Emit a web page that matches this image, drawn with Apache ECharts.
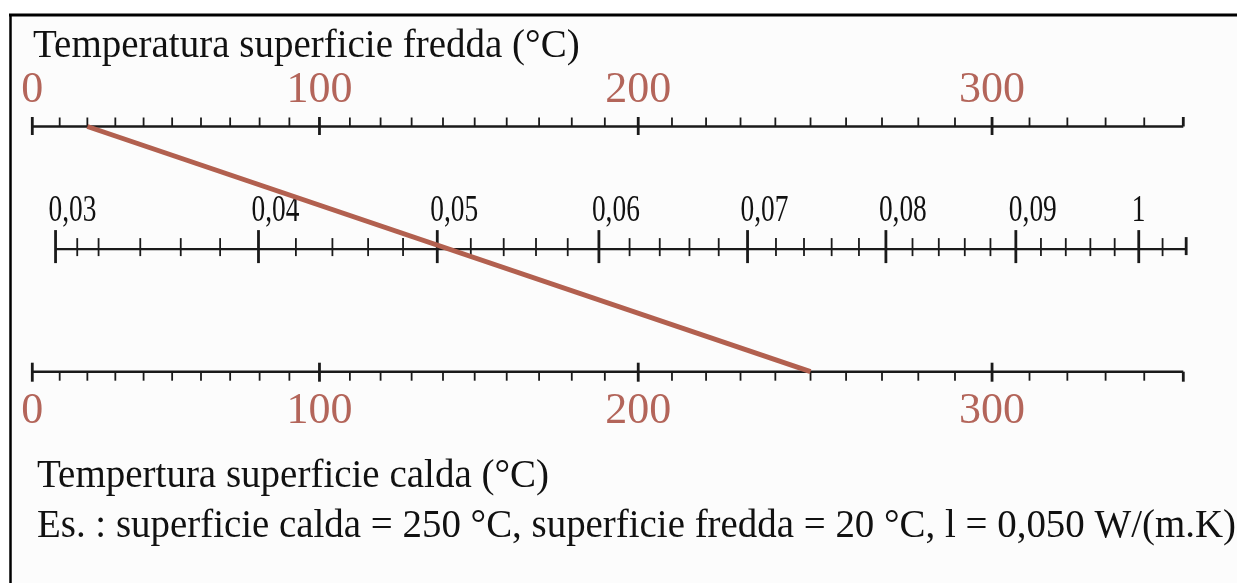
<!DOCTYPE html>
<html>
<head>
<meta charset="utf-8">
<script src="https://cdn.jsdelivr.net/npm/echarts@6/dist/echarts.min.js"></script>
<style>
html,body{margin:0;padding:0;background:#fff;}
#chart{width:1237px;height:583px;}
</style>
</head>
<body>
<div id="chart"></div>
<script>
// ---------- data ----------
const coldTitle = 'Temperatura superficie fredda (°C)';
const hotTitle = 'Tempertura superficie calda (°C)';
const exampleText = 'Es. : superficie calda = 250 °C, superficie fredda = 20 °C, l = 0,050 W/(m.K)';

const tempRange = [0, 350];
const tempMajor = [0, 100, 200, 300];
const tempLabels = ['0', '100', '200', '300'];
const tempMinor = [10, 20, 30, 40, 50, 60, 70, 80, 90,
  110, 120, 130, 140, 150, 160, 170, 180, 190,
  210, 220, 230, 240, 250, 260, 270, 280, 290,
  310, 320, 330, 340];
const tempEnd = [350];

const lambdaRange = [0.03, 0.104];
const lambdaMajor = [0.03, 0.04, 0.05, 0.06, 0.07, 0.08, 0.09, 0.10];
const lambdaLabels = ['0,03', '0,04', '0,05', '0,06', '0,07', '0,08', '0,09', '1'];
const lambdaMinor = [0.031, 0.032, 0.034, 0.036, 0.038,
  0.042, 0.044, 0.046, 0.048,
  0.052, 0.054, 0.056, 0.058,
  0.062, 0.064, 0.066, 0.068,
  0.072, 0.074, 0.076, 0.078,
  0.082, 0.084, 0.086, 0.088,
  0.092, 0.094, 0.096, 0.098,
  0.102];
const lambdaEnd = [0.104];

const exampleHot = 250;
const exampleCold = 20;
const exampleLambda = 0.05;

// ---------- nomogram scales (value -> fraction of scale width) ----------
const TEMP_R = 1.11;
function tempPos(t) { return (Math.pow(TEMP_R, t / 100) - 1) / (Math.pow(TEMP_R, 3.5) - 1); }
function lambdaPos(l) { return 0.0202 + 6.58 * (Math.sqrt(l) - Math.sqrt(0.03)); }

const ROW_COLD = 0, ROW_LAMBDA = 1, ROW_HOT = 2;
const RED = '#b2604f';
const LABEL_RED = '#b3655a';
const INK = '#1a1a1a';
const SERIF = '"Liberation Serif", "Times New Roman", serif';

function buildItems(major, labels, minor, end, pos) {
  const items = [];
  major.forEach((v, i) => items.push({ pos: pos(v), kind: 'major', label: labels[i] }));
  minor.forEach(v => items.push({ pos: pos(v), kind: 'minor' }));
  end.forEach(v => items.push({ pos: pos(v), kind: 'end' }));
  return items;
}

function tickSeries(row, items, geom) {
  return {
    type: 'custom',
    coordinateSystem: 'cartesian2d',
    clip: false,
    z: 3,
    silent: true,
    data: items.map(it => [it.pos, row]),
    renderItem: function (params, api) {
      const it = items[params.dataIndex];
      const p = api.coord([it.pos, row]);
      const g = geom[it.kind];
      const children = [{
        type: 'line',
        shape: { x1: p[0], y1: p[1] + g[0], x2: p[0], y2: p[1] + g[1] },
        style: { stroke: INK, lineWidth: it.kind === 'minor' ? 1.8 : 2.8 }
      }];
      if (it.label) {
        children.push({
          type: 'text',
          x: p[0] + geom.labelDx,
          y: p[1] + geom.labelDy,
          scaleX: geom.scaleX,
          style: {
            text: it.label, x: 0, y: 0,
            font: geom.font, fill: geom.color,
            align: geom.align, verticalAlign: 'middle'
          }
        });
      }
      return { type: 'group', children: children };
    }
  };
}

function axisLine(row, range, pos) {
  return {
    type: 'line', clip: false, silent: true, z: 2, symbol: 'none',
    lineStyle: { color: INK, width: 2.4 },
    data: [[pos(range[0]), row], [pos(range[1]), row]]
  };
}

const coldItems = buildItems(tempMajor, tempLabels, tempMinor, tempEnd, tempPos);
const hotItems = buildItems(tempMajor, tempLabels, tempMinor, tempEnd, tempPos);
const lambdaItems = buildItems(lambdaMajor, lambdaLabels, lambdaMinor, lambdaEnd, lambdaPos);

const chart = echarts.init(document.getElementById('chart'), null, { renderer: 'canvas' });
chart.setOption({
  animation: false,
  backgroundColor: '#ffffff',
  grid: { left: 32.3, right: 53.7, top: 126.5, bottom: 211.3 },
  xAxis: { type: 'value', min: 0, max: 1, show: false },
  yAxis: { type: 'value', min: 0, max: 2, inverse: true, show: false },
  graphic: [
    { type: 'rect', z: -10, shape: { x: 10, y: 15, width: 1227, height: 568 }, style: { fill: '#fcfcfc' } },
    { type: 'line', z: 10, shape: { x1: 9, y1: 15, x2: 1237, y2: 15 }, style: { stroke: '#000', lineWidth: 3 } },
    { type: 'line', z: 10, shape: { x1: 10.5, y1: 14, x2: 10.5, y2: 583 }, style: { stroke: '#000', lineWidth: 2.5 } },
    { type: 'text', z: 10, x: 33, y: 47, style: { text: coldTitle, font: '39px ' + SERIF, fill: '#111', align: 'left', verticalAlign: 'middle' } },
    { type: 'text', z: 10, x: 37, y: 477, style: { text: hotTitle, font: '39px ' + SERIF, fill: '#111', align: 'left', verticalAlign: 'middle' } },
    { type: 'text', z: 10, x: 37, y: 527, scaleX: 0.985, style: { text: exampleText, font: '39.5px ' + SERIF, fill: '#111', align: 'left', verticalAlign: 'middle' } }
  ],
  series: [
    axisLine(ROW_COLD, tempRange, tempPos),
    axisLine(ROW_LAMBDA, lambdaRange, lambdaPos),
    axisLine(ROW_HOT, tempRange, tempPos),
    tickSeries(ROW_COLD, coldItems, {
      major: [-9.5, 8.5], minor: [-9, 0], end: [-9.5, 0],
      labelDx: 0, labelDy: -36.5, scaleX: 1, align: 'center',
      font: '44px ' + SERIF, color: LABEL_RED
    }),
    tickSeries(ROW_LAMBDA, lambdaItems, {
      major: [-19, 14], minor: [-11, 7], end: [-12, 6],
      labelDx: -7, labelDy: -37.5, scaleX: 0.74, align: 'left',
      font: '37px ' + SERIF, color: '#111'
    }),
    tickSeries(ROW_HOT, hotItems, {
      major: [-9, 10], minor: [0, 9], end: [0, 10],
      labelDx: 0, labelDy: 39.5, scaleX: 1, align: 'center',
      font: '44px ' + SERIF, color: LABEL_RED
    }),
    {
      type: 'line', clip: false, silent: true, z: 5, symbol: 'none',
      lineStyle: { color: RED, width: 5, cap: 'butt' },
      data: [[tempPos(exampleCold), ROW_COLD], [tempPos(exampleHot), ROW_HOT]]
    }
  ]
});
</script>
</body>
</html>
